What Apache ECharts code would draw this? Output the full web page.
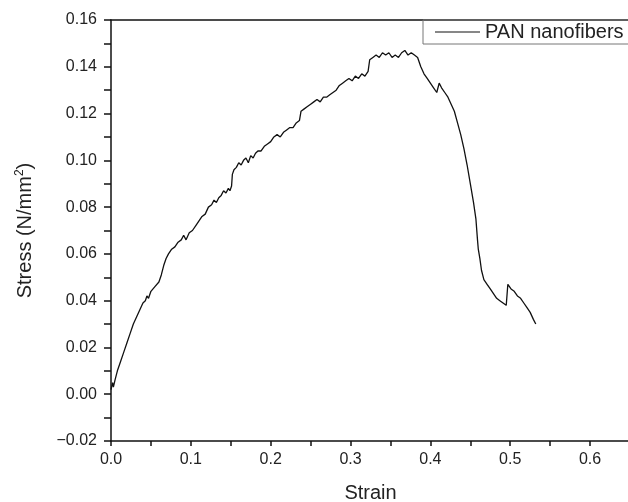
<!DOCTYPE html>
<html><head><meta charset="utf-8">
<script src="https://cdn.jsdelivr.net/npm/echarts@6/dist/echarts.min.js"></script>
<style>html,body{margin:0;padding:0;background:#fff}#c{width:628px;height:502px}</style>
</head><body><div id="c"></div>
<script>
const seriesName = 'PAN nanofibers';
const strain = [0.000,0.002,0.003,0.005,0.008,0.012,0.016,0.020,0.024,0.028,0.032,0.036,0.040,0.043,0.045,0.047,0.050,0.055,0.060,0.063,0.066,0.069,0.072,0.076,0.080,0.084,0.088,0.091,0.094,0.098,0.102,0.106,0.110,0.114,0.118,0.122,0.126,0.129,0.132,0.135,0.138,0.141,0.144,0.147,0.149,0.151,0.152,0.154,0.157,0.160,0.163,0.166,0.169,0.172,0.175,0.178,0.181,0.184,0.188,0.192,0.196,0.200,0.204,0.208,0.212,0.216,0.220,0.224,0.228,0.232,0.236,0.238,0.242,0.246,0.250,0.254,0.258,0.262,0.266,0.270,0.274,0.278,0.282,0.286,0.290,0.294,0.298,0.302,0.306,0.310,0.314,0.318,0.322,0.324,0.328,0.332,0.336,0.340,0.344,0.348,0.352,0.356,0.360,0.364,0.368,0.372,0.376,0.380,0.384,0.388,0.392,0.396,0.400,0.404,0.408,0.411,0.414,0.418,0.422,0.426,0.430,0.434,0.438,0.442,0.446,0.450,0.454,0.457,0.459,0.460,0.462,0.464,0.467,0.471,0.475,0.479,0.483,0.487,0.491,0.495,0.497,0.501,0.505,0.509,0.513,0.517,0.521,0.525,0.529,0.532];
const stress = [0.002,0.005,0.003,0.006,0.010,0.014,0.018,0.022,0.026,0.030,0.033,0.036,0.039,0.040,0.042,0.041,0.044,0.046,0.048,0.051,0.055,0.058,0.060,0.062,0.063,0.065,0.066,0.068,0.066,0.069,0.070,0.072,0.074,0.076,0.077,0.080,0.081,0.083,0.082,0.084,0.085,0.087,0.086,0.088,0.087,0.089,0.094,0.096,0.097,0.099,0.098,0.100,0.101,0.099,0.102,0.101,0.103,0.104,0.104,0.106,0.107,0.108,0.110,0.111,0.110,0.112,0.113,0.114,0.114,0.116,0.117,0.121,0.122,0.123,0.124,0.125,0.126,0.125,0.127,0.127,0.128,0.129,0.130,0.132,0.133,0.134,0.135,0.134,0.136,0.135,0.137,0.136,0.138,0.143,0.144,0.145,0.144,0.146,0.145,0.146,0.144,0.145,0.144,0.146,0.147,0.145,0.146,0.145,0.144,0.140,0.137,0.135,0.133,0.131,0.129,0.133,0.131,0.129,0.127,0.124,0.121,0.116,0.111,0.105,0.098,0.090,0.082,0.075,0.066,0.062,0.058,0.053,0.049,0.047,0.045,0.043,0.041,0.040,0.039,0.038,0.047,0.045,0.044,0.042,0.041,0.039,0.037,0.035,0.032,0.030];
const xTitle = 'Strain';
const yTitle = 'Stress (N/mm{sup|2})';

const data = strain.map((x, i) => [x, stress[i]]);
const FONT = '"Liberation Sans", Arial, sans-serif';
const TXT = '#222';
const chart = echarts.init(document.getElementById('c'));
chart.setOption({
  animation: false,
  backgroundColor: '#fff',
  grid: { left: 111, top: 20, right: -2, bottom: 61, containLabel: false, outerBoundsMode: 'none' },
  legend: {
    left: 423, top: 20,
    padding: [2, 20, 2, 12],
    borderColor: '#777', borderWidth: 1,
    icon: 'rect', itemWidth: 45, itemHeight: 1,
    textStyle: { fontFamily: FONT, fontSize: 20, color: TXT },
    data: [seriesName]
  },
  xAxis: [{
    type: 'value', min: 0, max: 0.65, interval: 0.05,
    position: 'bottom',
    name: xTitle, nameLocation: 'middle', nameGap: 42,
    nameTextStyle: { fontFamily: FONT, fontSize: 20, color: TXT },
    axisLine: { show: true, onZero: false, lineStyle: { color: '#111', width: 1.5 } },
    axisTick: { show: true, inside: false, length: 5, lineStyle: { color: '#111', width: 1.5 } },
    axisLabel: { fontFamily: FONT, fontSize: 16, color: TXT, margin: 11,
      formatter: v => (Math.round(v * 20) % 2 === 0 ? v.toFixed(1) : '') },
    splitLine: { show: false }
  }, {
    type: 'value', min: 0, max: 0.65, position: 'top',
    axisLine: { show: true, onZero: false, lineStyle: { color: '#111', width: 1.5 } },
    axisTick: { show: false }, axisLabel: { show: false }, splitLine: { show: false }
  }],
  yAxis: {
    type: 'value', min: -0.02, max: 0.16, interval: 0.01,
    name: yTitle, nameLocation: 'middle', nameGap: 75, nameRotate: 90,
    nameTextStyle: { fontFamily: FONT, fontSize: 20, color: TXT,
      rich: { sup: { fontFamily: FONT, fontSize: 12, color: TXT, verticalAlign: 'top', padding: [0, 0, 10, 0] } } },
    axisLine: { show: true, onZero: false, lineStyle: { color: '#111', width: 1.5 } },
    axisTick: { show: true, inside: false, length: 7, lineStyle: { color: '#111', width: 1.5 } },
    axisLabel: { fontFamily: FONT, fontSize: 16, color: TXT, margin: 14,
      formatter: v => (Math.round(v * 100) % 2 === 0 ? v.toFixed(2).replace('-', '\u2212') : '') },
    splitLine: { show: false }
  },
  series: [{
    name: seriesName, type: 'line', data: data, xAxisIndex: 0,
    showSymbol: false, symbol: 'none',
    lineStyle: { color: '#111', width: 1.3 },
    itemStyle: { color: '#111' }
  }]
});
</script></body></html>
